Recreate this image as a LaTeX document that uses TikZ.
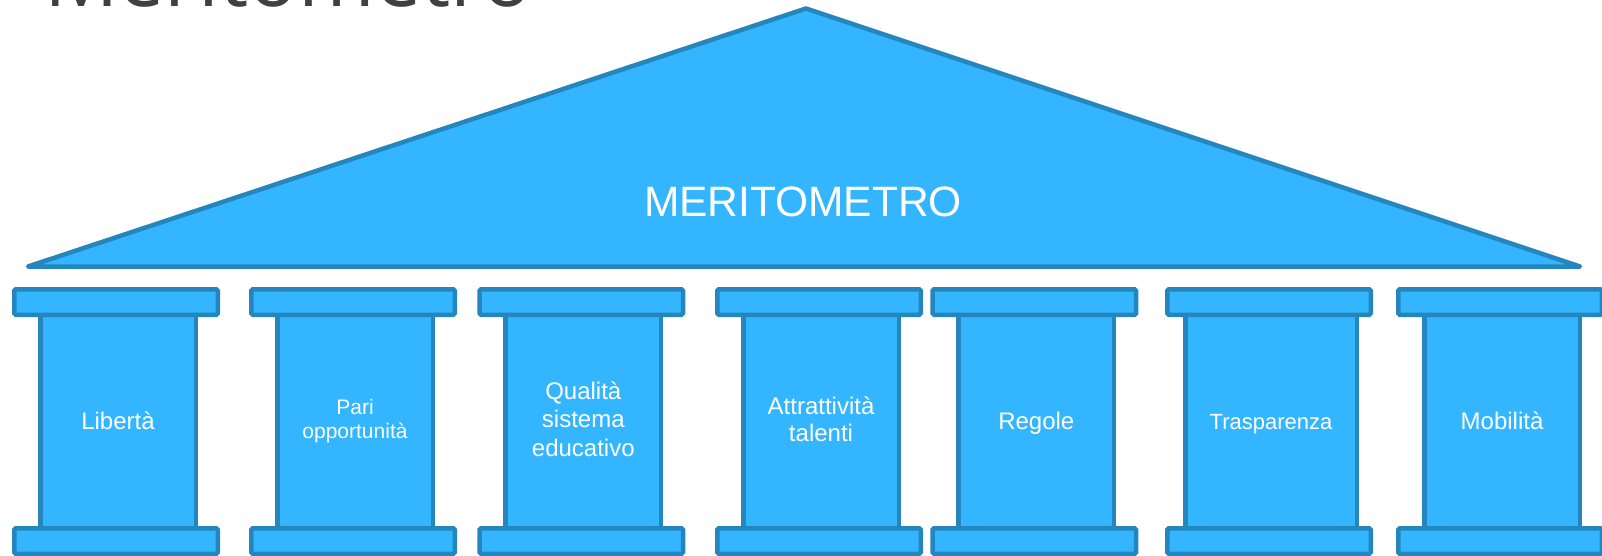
\documentclass[tikz,border=0pt]{standalone}
\usepackage{fontspec}
\setmainfont{Liberation Sans}
\newfontfamily\titlefont{Open Sans}
\usetikzlibrary{positioning}
\definecolor{pillarfill}{RGB}{51,182,255}
\definecolor{pillarline}{RGB}{37,134,189}
\definecolor{titlegrey}{RGB}{64,64,64}
% altezza e profondita fisse di una riga (come Arial)
\newcommand{\rigastrut}{\rule[-0.212em]{0pt}{1.117em}}
\tikzset{
    shaft/.style={draw=pillarline, fill=pillarfill, line width=4.5pt,
        minimum width=155.5pt, minimum height=213.5pt, inner sep=0pt,
        outer sep=0pt, text=white, align=center,
        font=\fontsize{24}{27.3}\selectfont,
        execute at begin node=\rigastrut, execute at end node=\rigastrut},
    capbox/.style={draw=pillarline, fill=pillarfill, line width=4.5pt,
        minimum width=203.5pt, minimum height=25.5pt, inner sep=0pt,
        outer sep=0pt, rounded corners=1.5pt, xshift=-2pt},
    roof/.style={draw=pillarline, fill=pillarfill, line width=4.5pt,
        line join=round}
}
\begin{document}
\begin{tikzpicture}[x=1pt, y=-1pt]
    \useasboundingbox (0, 0) rectangle (1602, 556);
    %\draw[lightgray] (0, 0) grid[step=50] (1602, 556);
    \node[anchor=base west, inner sep=0pt, text=titlegrey,
        font=\titlefont\fontsize{82.5}{82.5}\selectfont] (titolo) at (44, 7) {Meritometro};
    % tetto
    \draw[roof] (28, 266.5) -- (806, 8.5) -- (1580, 266.5) -- cycle;
    \node[text=white, font=\fontsize{42.5}{42.5}\selectfont] (meritometro) at (803, 202) {MERITOMETRO};
    % colonne
    \node[shaft] (liberta) at (118, 421.5) {Libertà};
    \node[shaft, font=\fontsize{21}{24}\selectfont] (pari) at (355, 421.5) {Pari\\opportunità};
    \node[shaft, font=\fontsize{24}{28.5}\selectfont] (qualita) at (583.3, 421.5) {Qualità\\sistema\\educativo};
    \node[shaft] (attrattivita) at (821, 421.5) {Attrattività\\talenti};
    \node[shaft] (regole) at (1036.3, 421.5) {Regole};
    \node[shaft, minimum width=171.5pt, font=\fontsize{22}{26}\selectfont] (trasparenza) at (1271, 421.5) {Trasparenza};
    \node[shaft] (mobilita) at (1502, 421.5) {Mobilità};
    \foreach \p in {liberta, pari, qualita, attrattivita, regole, trasparenza, mobilita} {
        \node[capbox, above=0pt of \p] (\p-capitello) {};
        \node[capbox, below=0pt of \p] (\p-base) {};
    }
\end{tikzpicture}
\end{document}
